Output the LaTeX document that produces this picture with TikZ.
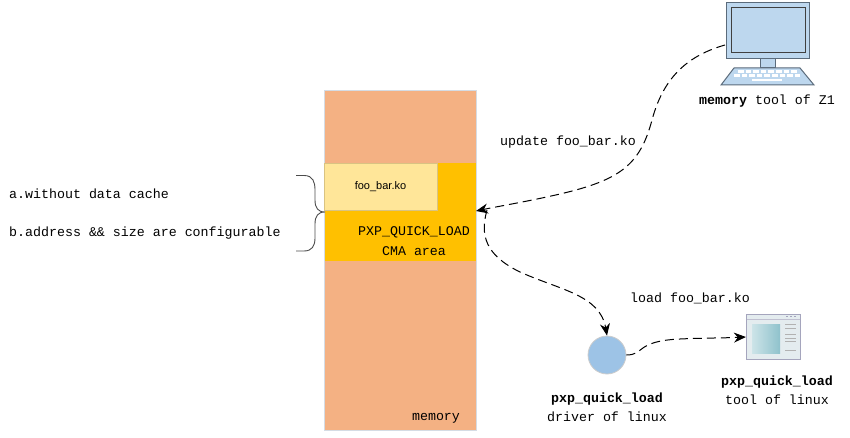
\documentclass[tikz,border=0pt]{standalone}
\usepackage{fontspec}
\setmainfont{Liberation Mono}
\newfontfamily\boxfont{Liberation Sans}
\usetikzlibrary{calc, arrows.meta}

\definecolor{memcolor}{HTML}{F4B183}
\definecolor{cmacolor}{HTML}{FFC000}
\definecolor{koColor}{HTML}{FFE699}
\definecolor{edgecolor}{HTML}{D5DCE4}
\definecolor{pcblue}{HTML}{BDD7EE}
\definecolor{pcline}{HTML}{5B6B7B}
\definecolor{driverblue}{HTML}{9DC3E6}
\definecolor{winframe}{HTML}{A5A5BD}
\definecolor{winback}{HTML}{E4ECEF}
\definecolor{winpic}{HTML}{8FC2CC}

\tikzset{
  txt/.style={font=\fontsize{13.3}{16}\selectfont, inner sep=0pt, align=center},
  flow/.style={draw=black, line width=1pt, dash pattern=on 9pt off 5pt, -{Stealth[length=12pt, width=10pt]}},
  bracket/.style={draw=black!70, line width=0.9pt}
}

\begin{document}
\begin{tikzpicture}[x=1pt, y=-1pt]
  \useasboundingbox (0, 0) rectangle (850, 438);

% memory column
\node [fill=memcolor, draw=edgecolor, line width=1pt, inner sep=0pt, minimum width=152pt, minimum height=339pt] (mem) at (400, 260.5) {};
\node [fill=cmacolor, inner sep=0pt, minimum width=151pt, minimum height=98pt] (cma) at (400, 212) {};
\node [fill=koColor, draw=koColor!85!black, line width=0.8pt, inner sep=0pt, minimum width=113pt, minimum height=47pt] (ko) at (380.5, 186.5) {\boxfont\fontsize{11}{12}\selectfont foo\_bar.ko};
\node [txt] (cmatext) at (414, 241) {PXP\_QUICK\_LOAD\\[4pt]CMA area};
\node [txt] (memtext) at (436, 418) {memory};

% notes and brace
\node [txt, anchor=west] (noteA) at (9, 194) {a.without data cache};
\node [txt, anchor=west] (noteB) at (9, 233) {b.address \&\& size are configurable};
\coordinate (braceTop) at (296, 175.5);
\coordinate (braceTip) at (325, 212);
\coordinate (braceEnd) at (296, 251);
\draw [bracket] (braceTop) -- (304, 175.5) .. controls (313, 175.5) and (315, 182) .. (315, 190)
  -- (315, 200) .. controls (315, 208) and (318, 212) .. (braceTip)
  .. controls (318, 212) and (315, 216) .. (315, 224) -- (315, 238)
  .. controls (315, 246) and (312, 251) .. (304, 251) -- (braceEnd);

% computer
\node [fill=pcblue, draw=pcline, line width=1.2pt, inner sep=0pt, minimum width=83pt, minimum height=56pt] (pc) at (768, 30.5) {};
\node [fill=pcblue, draw=black!75, line width=1pt, inner sep=0pt, minimum width=74pt, minimum height=45pt] (screen) at (768, 30.5) {};
\draw [fill=pcblue, draw=pcline, line width=1pt] (760, 59) rectangle (775, 68);
\draw [fill=pcblue, draw=pcline, line width=1pt] (734, 68) -- (800, 68) -- (814, 85) -- (721, 85) -- cycle;
\foreach \i in {0,...,7}
  \fill [white] ({738 + \i*7.6}, 70.5) rectangle ++(5.6, 2.4);
\foreach \i in {0,...,8}
  \fill [white] ({734 + \i*7.6}, 74.5) rectangle ++(5.6, 2.4);
\fill [white] (752, 79) rectangle (782, 81.5);
\node [txt] (pctext) at (767, 101) {\textbf{memory} tool of Z1};

% driver
\node [circle, fill=driverblue, draw=black!20, line width=0.8pt, inner sep=0pt, minimum size=38pt] (driver) at (607, 355) {};
\node [txt] (drivertext) at (607, 407) {\textbf{pxp\_quick\_load}\\[3pt]driver of linux};

% tool window
\node [fill=winback, draw=winframe, line width=1.2pt, inner sep=0pt, minimum width=54pt, minimum height=45pt] (tool) at (773.5, 337) {};
\foreach \x in {786, 790, 794}
  \fill [winframe] (\x, 315.5) rectangle ++(2, 1.5);
\draw [winframe!70, line width=0.7pt] (747, 319) -- (800, 319);
\shade [left color=winpic!45!white, right color=winpic] (752, 324) rectangle (780, 353);
\foreach \y in {324, 328, 334, 338, 341, 350}
  \draw [black!30, line width=0.7pt] (785, \y) -- (796, \y);
\node [txt] (tooltext) at (777, 390) {\textbf{pxp\_quick\_load}\\[3pt]tool of linux};

% flows
\coordinate (pcOut) at (725, 45);
\coordinate (cmaIn) at (476, 211);
\coordinate (cmaOut) at (487, 210);
\draw [flow] (pcOut) .. controls (690, 55) and (664, 75) .. (652, 120)
  .. controls (640, 165) and (620, 180) .. (560, 194)
  .. controls (530, 201) and (500, 206) .. (cmaIn);
\draw [flow] (cmaOut) .. controls (480, 235) and (485, 255) .. (520, 272)
  .. controls (560, 290) and (600, 295) .. (driver.north);
\draw [flow] (driver.east) .. controls (645, 355) and (635, 341) .. (680, 339)
  .. controls (700, 338) and (725, 338) .. (tool.west);

\node [txt] (updatetext) at (568, 142) {update foo\_bar.ko};
\node [txt] (loadtext) at (690, 298.5) {load foo\_bar.ko};
\end{tikzpicture}
\end{document}
